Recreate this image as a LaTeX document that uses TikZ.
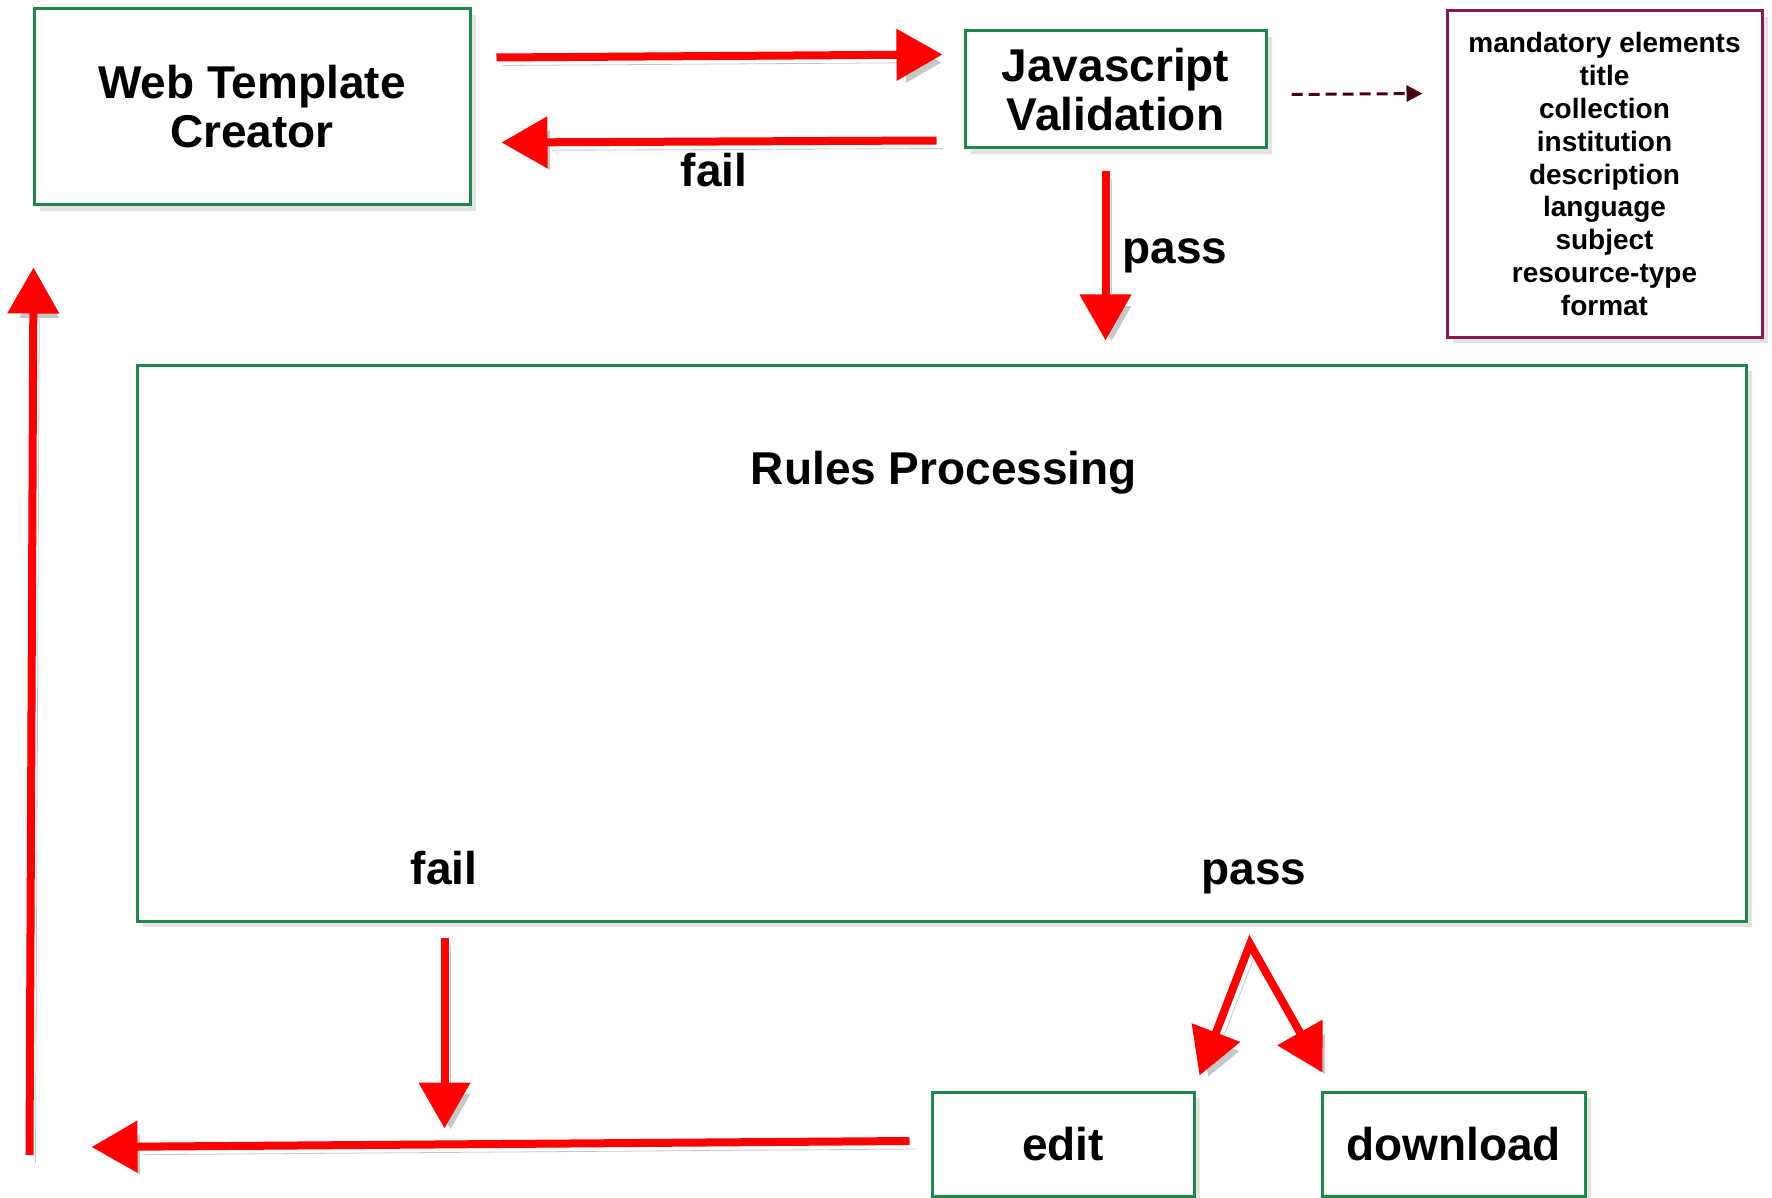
\documentclass[tikz,border=0pt]{standalone}
\usepackage{fontspec}
\setmainfont{Liberation Sans}
\usetikzlibrary{arrows.meta,calc,positioning,shadows}
\definecolor{boxgreen}{RGB}{30,135,75}
\definecolor{boxplum}{RGB}{135,25,85}
\definecolor{darkmaroon}{RGB}{70,5,15}

\begin{document}
\begin{tikzpicture}[x=0.5pt, y=-0.5pt,
  >={Triangle[length=23pt,width=25pt]},
  box/.style={draw=boxgreen, line width=1.5pt, fill=white, inner sep=0pt,
    drop shadow={shadow xshift=3pt, shadow yshift=-3pt, opacity=0.22}},
  big/.style={font=\bfseries\fontsize{23}{24.5}\selectfont, align=center},
  small/.style={font=\bfseries\fontsize{14}{16.4}\selectfont, align=center},
  flow/.style={draw=red, line width=4pt, ->,
    preaction={draw=black!22, transform canvas={xshift=3pt, yshift=-4pt}}},
  dashflow/.style={draw=darkmaroon, line width=1.5pt, dash pattern=on 5.5pt off 3pt,
    -{Triangle[length=8pt,width=8pt]}}]
  \path[use as bounding box, fill=white] (0,0) rectangle (1772,1198);

  % boxes
  \node[box, big, minimum width=218pt, minimum height=98pt](wtc) at (252,107){Web Template\\Creator};
  \node[box, big, minimum width=150.5pt, minimum height=58.5pt](jsv) at (1115.5,89.5){Javascript\\Validation};
  \node[box, small, draw=boxplum, minimum width=157.5pt, minimum height=163pt](mand) at (1604.5,174){mandatory elements\\title\\collection\\institution\\description\\language\\subject\\resource-type\\format};
  \node[box, minimum width=804.5pt, minimum height=278pt](rules) at (941.5,643){};
  \node[big](rulestitle) at (944,473){Rules Processing};
  \node[big](rulesfail) at (444,868){fail};
  \node[big](rulespass) at (1254,877){pass};
  \node[box, big, minimum width=131pt, minimum height=52pt](edit) at (1063,1144){edit};
  \node[box, big, minimum width=131.5pt, minimum height=52pt](download) at (1453.5,1144){download};
  \coordinate (apex) at (1250,944);

  % connectors
  \draw[flow] ($(wtc.north east)+(25,50)$) -- ($(jsv.north west)+(-21,25)$);
  \draw[flow] ($(jsv.south west)+(-27,-9)$) -- ($(wtc.south east)+(30,-64)$);
  \node[big](jsvfail) at (714,170){fail};
  \draw[dashflow] ($(jsv.east)+(24,5)$) -- ($(mand.west |- jsv.east)+(-23,4)$);
  \draw[flow] ($(jsv.south)+(-10,22)$) -- ($(jsv.south |- rules.north)+(-10,-23)$);
  \node[big](jsvpass) at (1175,256){pass};
  \draw[flow] ($(rules.south west)+(309,15)$) -- ($(rules.south west)+(309,206)$);
  \draw[flow] ($(edit.west)+(-21,-3)$) -- ($(wtc.south west |- edit.west)+(59,3)$);
  \draw[flow] ($(wtc.south west |- edit.west)+(-3,11)$) -- ($(wtc.south west)+(1,61)$);
  \draw[flow, <->] ($(edit.north east)+(4,-15)$) -- (apex) -- ($(download.north west)+(2,-18)$);
\end{tikzpicture}
\end{document}
